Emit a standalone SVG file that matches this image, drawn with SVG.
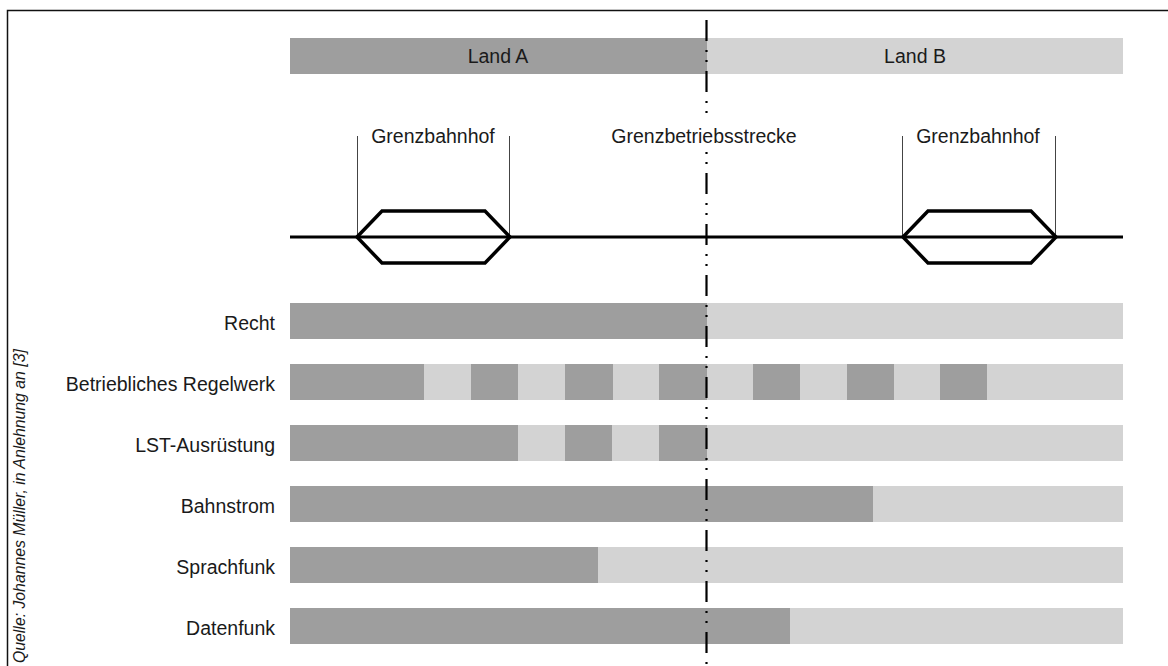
<svg xmlns="http://www.w3.org/2000/svg" width="1168" height="666" viewBox="0 0 1168 666">
<style>
.d{fill:#9e9e9e}
.l{fill:#d3d3d3}
.t{font-family:"Liberation Sans",Arial,sans-serif;font-size:19.5px;fill:#1a1a1a}
.r{text-anchor:end}
.m{text-anchor:middle}
.trk{stroke:#000;stroke-width:3;fill:none}
.st{stroke:#000;stroke-width:3.5;fill:none;stroke-linejoin:miter}
.tick{stroke:#444;stroke-width:1}
</style>
<rect width="1168" height="666" fill="#fff"/>
<path d="M7.5,666 V10.5 H1168" fill="none" stroke="#111" stroke-width="1.5"/>
<text x="25" y="663" class="t" style="font-size:15.8px;font-style:italic" transform="rotate(-90 25 663)">Quelle: Johannes Müller, in Anlehnung an [3]</text>

<g id="laender">
<rect x="290" y="38" width="417" height="36" class="d"/>
<rect x="707" y="38" width="416" height="36" class="l"/>
<text x="498" y="63" class="t m">Land A</text>
<text x="915" y="63" class="t m">Land B</text>
</g>

<g id="grenzbahnhof-a">
<line x1="357.5" y1="136" x2="357.5" y2="237" class="tick"/>
<line x1="509.5" y1="136" x2="509.5" y2="237" class="tick"/>
<text x="433" y="143" class="t m">Grenzbahnhof</text>
<polygon points="357,237 382,211 485,211 510,237 485,263 382,263" class="st"/>
</g>
<g id="grenzbahnhof-b">
<line x1="902.5" y1="136" x2="902.5" y2="237" class="tick"/>
<line x1="1055.5" y1="136" x2="1055.5" y2="237" class="tick"/>
<text x="978" y="143" class="t m">Grenzbahnhof</text>
<polygon points="903,237 928,211 1031,211 1056,237 1031,263 928,263" class="st"/>
</g>

<g id="recht">
<text x="275" y="329.5" class="t r">Recht</text>
<rect x="290" y="303" width="417" height="36" class="d"/>
<rect x="707" y="303" width="416" height="36" class="l"/>
</g>
<g id="regelwerk">
<text x="275" y="390.5" class="t r">Betriebliches Regelwerk</text>
<rect x="290" y="364" width="833" height="36" class="l"/>
<rect x="290" y="364" width="134" height="36" class="d"/>
<rect x="471" y="364" width="47" height="36" class="d"/>
<rect x="565" y="364" width="48" height="36" class="d"/>
<rect x="659" y="364" width="48" height="36" class="d"/>
<rect x="753" y="364" width="47" height="36" class="d"/>
<rect x="847" y="364" width="47" height="36" class="d"/>
<rect x="940" y="364" width="47" height="36" class="d"/>
</g>
<g id="lst">
<text x="275" y="451.5" class="t r">LST-Ausrüstung</text>
<rect x="290" y="425" width="833" height="36" class="l"/>
<rect x="290" y="425" width="228" height="36" class="d"/>
<rect x="565" y="425" width="47" height="36" class="d"/>
<rect x="659" y="425" width="48" height="36" class="d"/>
</g>
<g id="bahnstrom">
<text x="275" y="512.5" class="t r">Bahnstrom</text>
<rect x="290" y="486" width="833" height="36" class="l"/>
<rect x="290" y="486" width="583" height="36" class="d"/>
</g>
<g id="sprachfunk">
<text x="275" y="573.5" class="t r">Sprachfunk</text>
<rect x="290" y="547" width="833" height="36" class="l"/>
<rect x="290" y="547" width="308" height="36" class="d"/>
</g>
<g id="datenfunk">
<text x="275" y="634.5" class="t r">Datenfunk</text>
<rect x="290" y="608" width="833" height="36" class="l"/>
<rect x="290" y="608" width="500" height="36" class="d"/>
</g>

<g id="connectors">
<line x1="290" y1="237" x2="357" y2="237" class="trk"/>
<line x1="357" y1="237" x2="903" y2="237" class="trk"/>
<line x1="903" y1="237" x2="1123" y2="237" class="trk"/>
<line x1="706.5" y1="20" x2="706.5" y2="664" stroke="#000" stroke-width="2.2" stroke-dasharray="21 9 2 8 2 9"/>
</g>

<g id="grenzbetriebsstrecke">
<rect x="608" y="121" width="194" height="31" fill="#fff"/>
<text x="704" y="143" class="t m">Grenzbetriebsstrecke</text>
</g>
</svg>
